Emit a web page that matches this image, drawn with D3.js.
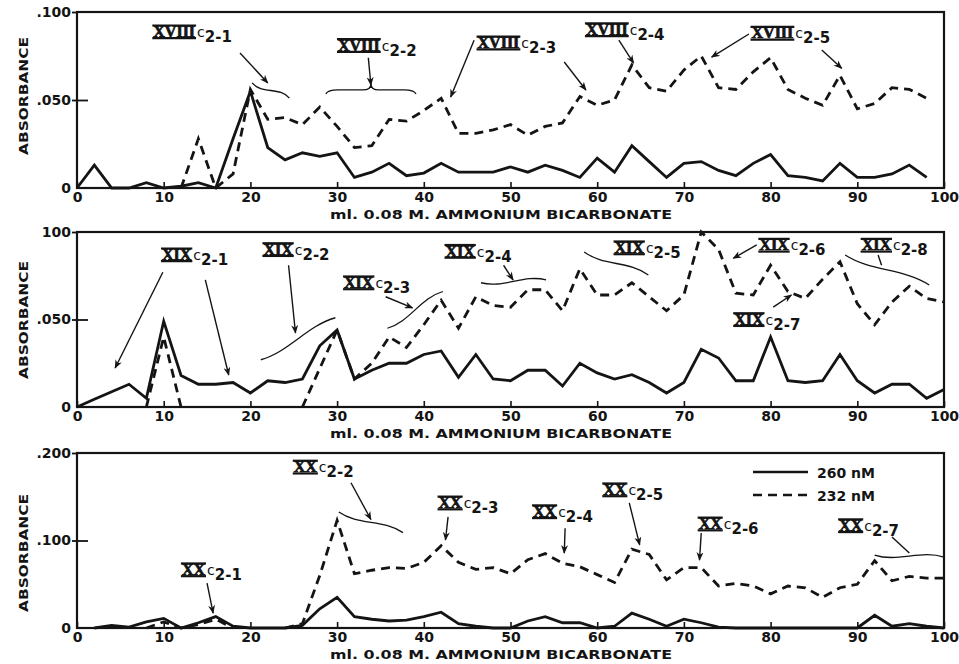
<!DOCTYPE html>
<html>
<head>
<meta charset="utf-8">
<script src="https://cdn.jsdelivr.net/npm/d3@7"></script>
<style>
  body { margin: 0; background: #fff; }
  #container { width: 959px; height: 664px; }
</style>
</head>
<body>
<div id="container"></div>
<script>
/* CONSTANTS AND GLOBALS */
const width = 959,
  height = 664,
  left = 77,
  right = 944,
  ink = "#141414";

/* DATA */
const ml = [0, 2, 4, 6, 8, 10, 12, 14, 16, 18, 20, 22, 24, 26, 28, 30, 32, 34, 36, 38, 40,
  42, 44, 46, 48, 50, 52, 54, 56, 58, 60, 62, 64, 66, 68, 70, 72, 74, 76, 78, 80,
  82, 84, 86, 88, 90, 92, 94, 96, 98, 100];
const xTicks = [0, 10, 20, 30, 40, 50, 60, 70, 80, 90, 100];

// fraction XVIII
const p1Solid = [0, .013, 0, 0, .003, 0, .001, .003, 0, .028, .055, .023, .016, .02, .018, .02,
  .006, .009, .014, .007, .0085, .014, .009, .009, .009, .012, .009, .013, .01, .006, .017,
  .009, .024, .015, .006, .014, .015, .01, .007, .014, .019, .007, .006, .004, .014, .006,
  .006, .008, .013, .006, null];
const p1Dash = [null, null, null, null, null, null, 0, .028, 0, .008, .056, .039, .04, .036,
  .046, .035, .023, .024, .039, .038, .044, .051, .031, .031, .033, .036, .03, .035, .037,
  .052, .047, .05, .07, .057, .055, .067, .075, .057, .056, .066, .074, .056, .051, .047,
  .064, .045, .048, .057, .056, .051, null];

// fraction XIX
const p2Solid = [0, .0044, .0087, .013, .005, .049, .018, .013, .013, .014, .008, .015, .014,
  .016, .035, .044, .016, .021, .025, .025, .03, .032, .017, .03, .016, .015, .021, .021,
  .012, .025, .0195, .016, .0185, .014, .008, .014, .033, .028, .015, .015, .04, .015,
  .014, .015, .03, .015, .008, .013, .013, .005, .01];
const p2Dash = [null, null, null, null, 0, .04, 0, null, null, null, null, null, null, 0,
  .022, .044, .016, .025, .04, .034, .047, .061, .045, .063, .058, .057, .067, .067, .055,
  .079, .064, .064, .071, .063, .055, .064, .1, .09, .065, .064, .081, .066, .062, .073,
  .083, .059, .047, .06, .069, .062, .06];

// fraction XX
const p3Solid = [null, 0, .003, .001, .007, .011, 0, .006, .013, .002, 0, 0, 0, .003, .022,
  .035, .013, .01, .008, .009, .013, .018, .005, .002, 0, 0, .008, .013, .006, .006, 0,
  .002, .017, .01, .002, .01, .006, .001, 0, 0, 0, 0, 0, 0, 0, 0, .0145, .002, .005,
  .002, 0];
const p3Dash = [null, null, null, null, 0, .007, 0, .004, .01, 0, null, null, 0, .005, .06,
  .123, .062, .066, .069, .068, .075, .094, .075, .067, .069, .062, .078, .085, .074, .07,
  .061, .052, .09, .084, .055, .069, .069, .048, .051, .048, .039, .048, .046, .035, .046,
  .05, .077, .054, .059, .057, .057];

// peak labels: roman numeral, subscript, ml, absorbance of baseline
const p1Labels = [["XVIII", "2-1", 8.8, .0858], ["XVIII", "2-2", 30.1, .078],
  ["XVIII", "2-3", 46.2, .0795], ["XVIII", "2-4", 58.7, .087], ["XVIII", "2-5", 77.8, .085]];
const p2Labels = [["XIX", "2-1", 9.8, .084], ["XIX", "2-2", 21.5, .087], ["XIX", "2-3", 30.8, .068],
  ["XIX", "2-4", 42.5, .086], ["XIX", "2-5", 62, .088], ["XIX", "2-6", 78.7, .0895],
  ["XIX", "2-8", 90.5, .0895], ["XIX", "2-7", 75.8, .047]];
const p3Labels = [["XX", "2-1", 12.1, .0606], ["XX", "2-2", 25.0, .178], ["XX", "2-3", 41.7, .137],
  ["XX", "2-4", 52.6, .127], ["XX", "2-5", 60.7, .152], ["XX", "2-6", 71.7, .113],
  ["XX", "2-7", 87.9, .111]];

// arrows: from ml, from abs, to ml, to abs, head
const p1Arrows = [[18.8, .0767, 22.0, .0597, 1], [33.6, .074, 33.9, .0585, 1],
  [56.2, .0716, 58.7, .0557, 1], [45.8, .084, 43.1, .0517, 1], [62.5, .084, 64.2, .071, 1],
  [77.5, .0875, 73.2, .0744, 1], [85.9, .0784, 88.2, .068, 1]];
const p2Arrows = [[9.9, .077, 4.4, .0223, 1], [14.8, .0726, 17.5, .0183, 1],
  [24.4, .081, 25.2, .0423, 1], [35.6, .063, 38.7, .0566, 1], [49.2, .081, 50.3, .0726, 1],
  [78.4, .0926, 75.7, .085, 1], [80.3, .0571, 82.4, .064, 1], [92.4, .0869, 92.8, .081, 0]];
const p3Arrows = [[15.0, .0514, 15.7, .0171, 1], [31.6, .166, 33.9, .124, 1],
  [42.8, .127, 42.5, .1006, 1], [56.3, .114, 56.2, .0857, 1], [63.7, .143, 64.9, .095, 1],
  [72.0, .1086, 71.8, .0777, 1], [94.0, .104, 96.0, .0857, 0]];

// wavy brackets under the arrows
const p1Waves = [[20.2, .0597, 24.5, .0511]];
const p2Waves = [[21.2, .027, 29.8, .051], [35.8, .045, 42.2, .066], [46.6, .071, 54.1, .0726],
  [58.5, .0886, 65.9, .0754], [88.6, .0869, 98.3, .0697]];
const p3Waves = [[30.2, .1326, 37.6, .109], [92, .0834, 100, .081]];
const p1Braces = [[28.7, 39.1, .0557]];

const panels = [
  { top: 12, bottom: 188, ymax: .1, yTicks: [0, .05, .1], yLabels: ["0", ".050", ".100"], mid: 96,
    solid: p1Solid, dash: p1Dash, labels: p1Labels, arrows: p1Arrows, waves: p1Waves, braces: p1Braces },
  { top: 232, bottom: 407, ymax: .1, yTicks: [0, .05, .1], yLabels: ["0", ".050", "100"], mid: 320,
    solid: p2Solid, dash: p2Dash, labels: p2Labels, arrows: p2Arrows, waves: p2Waves, braces: [] },
  { top: 453, bottom: 628, ymax: .2, yTicks: [0, .1, .2], yLabels: ["0", ".100", ".200"], mid: 553,
    solid: p3Solid, dash: p3Dash, labels: p3Labels, arrows: p3Arrows, waves: p3Waves, braces: [] }
];

const svg = d3.select("#container")
  .append("svg")
  .attr("width", width)
  .attr("height", height)
  .style("background-color", "white");

svg.append("defs").append("marker")
  .attr("id", "head")
  .attr("viewBox", "0 0 10 8")
  .attr("refX", 9).attr("refY", 4)
  .attr("markerWidth", 9).attr("markerHeight", 7)
  .attr("markerUnits", "userSpaceOnUse")
  .attr("orient", "auto")
  .append("path")
  .attr("d", "M0,0 L10,4 L0,8 L3,4 Z")
  .attr("fill", ink);

const xScale = d3.scaleLinear().domain([0, 100]).range([left, right]);

panels.forEach(p => {
  const yScale = d3.scaleLinear().domain([0, p.ymax]).range([p.bottom, p.top]);
  const g = svg.append("g");

  /* AXES */
  const xAxis = d3.axisBottom(xScale)
    .tickValues(xTicks)
    .tickSizeInner(-6)
    .tickSizeOuter(0)
    .tickPadding(4);
  const gx = g.append("g")
    .attr("transform", `translate(0, ${p.bottom})`)
    .call(xAxis);
  gx.select(".domain").remove();
  gx.selectAll("line").attr("stroke", ink).attr("stroke-width", 1.6);
  gx.selectAll("text")
    .attr("font-family", "DejaVu Sans").attr("font-weight", "bold")
    .attr("font-size", 14).attr("fill", ink);

  const yAxis = d3.axisLeft(yScale)
    .tickValues(p.yTicks)
    .tickFormat((d, i) => p.yLabels[i])
    .tickSizeInner(5)
    .tickSizeOuter(0)
    .tickPadding(1);
  const gy = g.append("g")
    .attr("transform", `translate(${left}, 0)`)
    .call(yAxis);
  gy.select(".domain").remove();
  gy.selectAll(".tick").filter(d => d === 0).select("line").remove();
  gy.selectAll(".tick").filter(d => d > 0 && d < p.ymax)
    .append("line").attr("x2", 11);
  gy.selectAll("line").attr("stroke", ink).attr("stroke-width", 1.8);
  gy.selectAll("text")
    .attr("font-family", "DejaVu Sans").attr("font-weight", "bold")
    .attr("font-size", 14).attr("fill", ink);

  g.append("rect")
    .attr("x", left).attr("y", p.top)
    .attr("width", right - left).attr("height", p.bottom - p.top)
    .attr("fill", "none").attr("stroke", ink).attr("stroke-width", 2.2);

  g.append("text")
    .attr("x", 330).attr("y", p.bottom + 31)
    .attr("textLength", 342).attr("lengthAdjust", "spacingAndGlyphs")
    .attr("font-family", "DejaVu Sans").attr("font-weight", "bold")
    .attr("font-size", 13).attr("fill", ink)
    .text("ml. 0.08 M. AMMONIUM BICARBONATE");

  g.append("text")
    .attr("transform", `translate(28, ${p.mid}) rotate(-90)`)
    .attr("text-anchor", "middle")
    .attr("textLength", 118).attr("lengthAdjust", "spacingAndGlyphs")
    .attr("font-family", "DejaVu Sans").attr("font-weight", "bold")
    .attr("font-size", 13).attr("fill", ink)
    .text("ABSORBANCE");

  /* LINES */
  const line = d3.line()
    .defined(d => d[1] !== null)
    .x(d => xScale(d[0]))
    .y(d => yScale(d[1]));

  g.append("path")
    .datum(ml.map((m, i) => [m, p.solid[i]]))
    .attr("d", line)
    .attr("fill", "none").attr("stroke", ink)
    .attr("stroke-width", 2.8).attr("stroke-linejoin", "miter");

  g.append("path")
    .datum(ml.map((m, i) => [m, p.dash[i]]))
    .attr("d", line)
    .attr("fill", "none").attr("stroke", ink)
    .attr("stroke-width", 2.8).attr("stroke-dasharray", "9,6");

  /* ANNOTATIONS */
  p.arrows.forEach(a => {
    const l = g.append("line")
      .attr("x1", xScale(a[0])).attr("y1", yScale(a[1]))
      .attr("x2", xScale(a[2])).attr("y2", yScale(a[3]))
      .attr("stroke", ink).attr("stroke-width", 1.4);
    if (a[4]) l.attr("marker-end", "url(#head)");
  });

  p.waves.forEach(w => {
    const x1 = xScale(w[0]), y1 = yScale(w[1]), x2 = xScale(w[2]), y2 = yScale(w[3]);
    const dx = x2 - x1, dy = y2 - y1, len = Math.hypot(dx, dy);
    const nx = -dy / len * 7, ny = dx / len * 7;
    g.append("path")
      .attr("d", `M${x1},${y1} C${x1 + dx / 3 + nx},${y1 + dy / 3 + ny} ${x1 + 2 * dx / 3 - nx},${y1 + 2 * dy / 3 - ny} ${x2},${y2}`)
      .attr("fill", "none").attr("stroke", ink).attr("stroke-width", 1.3);
  });

  p.braces.forEach(b => {
    const xa = xScale(b[0]), xb = xScale(b[1]), yb = yScale(b[2]), xm = (xa + xb) / 2;
    g.append("path")
      .attr("d", `M${xa},${yb + 4} Q${xa + 2},${yb} ${xa + 12},${yb} L${xm - 8},${yb} Q${xm},${yb} ${xm},${yb - 6} Q${xm},${yb} ${xm + 8},${yb} L${xb - 12},${yb} Q${xb - 2},${yb} ${xb},${yb + 4}`)
      .attr("fill", "none").attr("stroke", ink).attr("stroke-width", 1.3);
  });

  p.labels.forEach(lb => {
    const lg = g.append("g")
      .attr("transform", `translate(${xScale(lb[2])}, ${yScale(lb[3])})`);
    const roman = lg.append("text")
      .attr("font-family", "Liberation Serif").attr("font-weight", "bold")
      .attr("font-size", 16).attr("fill", ink)
      .attr("stroke", ink).attr("stroke-width", 0.7)
      .text(lb[0]);
    const w = roman.node().getComputedTextLength();
    [-11.5, 1.2].forEach(dy => lg.append("line")
      .attr("x1", -1).attr("x2", w + 1).attr("y1", dy).attr("y2", dy)
      .attr("stroke", ink).attr("stroke-width", 2.2));
    const t = lg.append("text")
      .attr("x", w + 2)
      .attr("font-family", "DejaVu Sans").attr("font-size", 14).attr("fill", ink);
    t.append("tspan").text("c");
    t.append("tspan").attr("dy", 5).attr("font-weight", "bold").attr("font-size", 15).text(lb[1]);
  });
});

/* LEGEND */
const legend = svg.append("g");
[["260 nM", null], ["232 nM", "9,6"]].forEach((d, i) => {
  legend.append("line")
    .attr("x1", 753).attr("x2", 808)
    .attr("y1", 472 + i * 23).attr("y2", 472 + i * 23)
    .attr("stroke", ink).attr("stroke-width", 2.4)
    .attr("stroke-dasharray", d[1]);
  legend.append("text")
    .attr("x", 817).attr("y", 478 + i * 23)
    .attr("font-family", "DejaVu Sans").attr("font-weight", "bold")
    .attr("font-size", 14).attr("fill", ink)
    .text(d[0]);
});
</script>
</body>
</html>
